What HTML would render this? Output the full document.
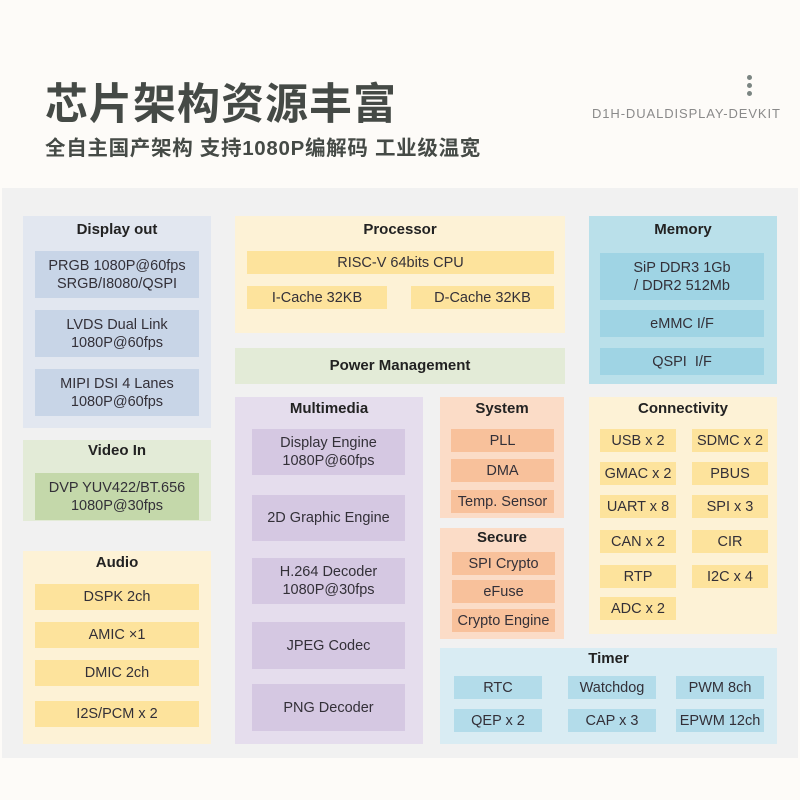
<!DOCTYPE html>
<html><head><meta charset="utf-8"><style>
*{margin:0;padding:0;box-sizing:border-box}
body{width:800px;height:800px;background:#fdfbf8;position:relative;overflow:hidden;font-family:"Liberation Sans","Noto Sans CJK SC",sans-serif;color:#2e2e33}
div{position:absolute}
.b{display:flex;align-items:center;justify-content:center;text-align:center;font-size:14.5px;line-height:18px;color:#333038}
.t{font-weight:bold;font-size:15px;text-align:center;color:#222}
</style></head><body>
<div style="left:45px;top:70px;font-size:43px;font-weight:bold;color:#454a46;letter-spacing:1px;font-family:'Noto Sans CJK SC',sans-serif">芯片架构资源丰富</div>
<div style="left:45px;top:131px;font-size:20.5px;font-weight:bold;color:#454a46;letter-spacing:0.7px;font-family:'Liberation Sans','Noto Sans CJK SC',sans-serif;white-space:nowrap">全自主国产架构 支持1080P编解码 工业级温宽</div>
<div style="left:592px;top:106px;font-size:13px;color:#8a8a8a;letter-spacing:0.9px">D1H-DUALDISPLAY-DEVKIT</div>
<div style="left:747px;top:75px;width:5px;height:5px;border-radius:50%;background:#7b8582"></div>
<div style="left:747px;top:83px;width:5px;height:5px;border-radius:50%;background:#7b8582"></div>
<div style="left:747px;top:91px;width:5px;height:5px;border-radius:50%;background:#7b8582"></div>

<div style="left:2px;top:188px;width:796px;height:570px;background:#f1f1f1"></div>

<!-- Display out -->
<div style="left:23px;top:216px;width:188px;height:212px;background:#e2e7f0"></div>
<div class="t" style="left:23px;top:221px;width:188px">Display out</div>
<div class="b" style="left:35px;top:251px;width:164px;height:47px;background:#c8d5e7">PRGB 1080P@60fps<br>SRGB/I8080/QSPI</div>
<div class="b" style="left:35px;top:310px;width:164px;height:47px;background:#c8d5e7">LVDS Dual Link<br>1080P@60fps</div>
<div class="b" style="left:35px;top:369px;width:164px;height:47px;background:#c8d5e7">MIPI DSI 4 Lanes<br>1080P@60fps</div>

<!-- Video In -->
<div style="left:23px;top:440px;width:188px;height:81px;background:#e3ebd7"></div>
<div class="t" style="left:23px;top:442px;width:188px">Video In</div>
<div class="b" style="left:35px;top:473px;width:164px;height:47px;background:#c4d8aa">DVP YUV422/BT.656<br>1080P@30fps</div>

<!-- Audio -->
<div style="left:23px;top:551px;width:188px;height:193px;background:#fdf2d6"></div>
<div class="t" style="left:23px;top:554px;width:188px">Audio</div>
<div class="b" style="left:35px;top:584px;width:164px;height:26px;background:#fde39c">DSPK 2ch</div>
<div class="b" style="left:35px;top:622px;width:164px;height:26px;background:#fde39c">AMIC ×1</div>
<div class="b" style="left:35px;top:660px;width:164px;height:26px;background:#fde39c">DMIC 2ch</div>
<div class="b" style="left:35px;top:701px;width:164px;height:26px;background:#fde39c">I2S/PCM x 2</div>

<!-- Processor -->
<div style="left:235px;top:216px;width:330px;height:117px;background:#fdf2d6"></div>
<div class="t" style="left:235px;top:221px;width:330px">Processor</div>
<div class="b" style="left:247px;top:251px;width:307px;height:23px;background:#fde39c">RISC-V 64bits CPU</div>
<div class="b" style="left:247px;top:286px;width:140px;height:23px;background:#fde39c">I-Cache 32KB</div>
<div class="b" style="left:411px;top:286px;width:143px;height:23px;background:#fde39c">D-Cache 32KB</div>

<!-- Power -->
<div class="b" style="left:235px;top:348px;width:330px;height:36px;background:#e3ebd7;font-weight:bold;font-size:15px;color:#222">Power Management</div>

<!-- Multimedia -->
<div style="left:235px;top:397px;width:188px;height:347px;background:#e5dded"></div>
<div class="t" style="left:235px;top:400px;width:188px">Multimedia</div>
<div class="b" style="left:252px;top:429px;width:153px;height:46px;background:#d5c8e2">Display Engine<br>1080P@60fps</div>
<div class="b" style="left:252px;top:495px;width:153px;height:46px;background:#d5c8e2">2D Graphic Engine</div>
<div class="b" style="left:252px;top:558px;width:153px;height:46px;background:#d5c8e2">H.264 Decoder<br>1080P@30fps</div>
<div class="b" style="left:252px;top:622px;width:153px;height:47px;background:#d5c8e2">JPEG Codec</div>
<div class="b" style="left:252px;top:684px;width:153px;height:47px;background:#d5c8e2">PNG Decoder</div>

<!-- System -->
<div style="left:440px;top:397px;width:124px;height:121px;background:#fbdcc7"></div>
<div class="t" style="left:440px;top:400px;width:124px">System</div>
<div class="b" style="left:451px;top:429px;width:103px;height:23px;background:#f8c19b">PLL</div>
<div class="b" style="left:451px;top:459px;width:103px;height:23px;background:#f8c19b">DMA</div>
<div class="b" style="left:451px;top:490px;width:103px;height:23px;background:#f8c19b">Temp. Sensor</div>

<!-- Secure -->
<div style="left:440px;top:528px;width:124px;height:111px;background:#fbdcc7"></div>
<div class="t" style="left:440px;top:529px;width:124px">Secure</div>
<div class="b" style="left:452px;top:552px;width:103px;height:23px;background:#f8c19b">SPI Crypto</div>
<div class="b" style="left:452px;top:580px;width:103px;height:23px;background:#f8c19b">eFuse</div>
<div class="b" style="left:452px;top:609px;width:103px;height:23px;background:#f8c19b">Crypto Engine</div>

<!-- Memory -->
<div style="left:589px;top:216px;width:188px;height:168px;background:#bae0ea"></div>
<div class="t" style="left:589px;top:221px;width:188px">Memory</div>
<div class="b" style="left:600px;top:253px;width:164px;height:47px;background:#9fd4e4">SiP DDR3 1Gb<br>/ DDR2 512Mb</div>
<div class="b" style="left:600px;top:310px;width:164px;height:27px;background:#9fd4e4">eMMC I/F</div>
<div class="b" style="left:600px;top:348px;width:164px;height:27px;background:#9fd4e4">QSPI&nbsp; I/F</div>

<!-- Connectivity -->
<div style="left:589px;top:397px;width:188px;height:237px;background:#fdf2d6"></div>
<div class="t" style="left:589px;top:400px;width:188px">Connectivity</div>
<div class="b" style="left:600px;top:429px;width:76px;height:23px;background:#fde39c">USB x 2</div>
<div class="b" style="left:692px;top:429px;width:76px;height:23px;background:#fde39c">SDMC x 2</div>
<div class="b" style="left:600px;top:462px;width:76px;height:23px;background:#fde39c">GMAC x 2</div>
<div class="b" style="left:692px;top:462px;width:76px;height:23px;background:#fde39c">PBUS</div>
<div class="b" style="left:600px;top:495px;width:76px;height:23px;background:#fde39c">UART x 8</div>
<div class="b" style="left:692px;top:495px;width:76px;height:23px;background:#fde39c">SPI x 3</div>
<div class="b" style="left:600px;top:530px;width:76px;height:23px;background:#fde39c">CAN x 2</div>
<div class="b" style="left:692px;top:530px;width:76px;height:23px;background:#fde39c">CIR</div>
<div class="b" style="left:600px;top:565px;width:76px;height:23px;background:#fde39c">RTP</div>
<div class="b" style="left:692px;top:565px;width:76px;height:23px;background:#fde39c">I2C x 4</div>
<div class="b" style="left:600px;top:597px;width:76px;height:23px;background:#fde39c">ADC x 2</div>

<!-- Timer -->
<div style="left:440px;top:648px;width:337px;height:96px;background:#d9ecf3"></div>
<div class="t" style="left:440px;top:650px;width:337px">Timer</div>
<div class="b" style="left:454px;top:676px;width:88px;height:23px;background:#b3dcea">RTC</div>
<div class="b" style="left:568px;top:676px;width:88px;height:23px;background:#b3dcea">Watchdog</div>
<div class="b" style="left:676px;top:676px;width:88px;height:23px;background:#b3dcea">PWM 8ch</div>
<div class="b" style="left:454px;top:709px;width:88px;height:23px;background:#b3dcea">QEP x 2</div>
<div class="b" style="left:568px;top:709px;width:88px;height:23px;background:#b3dcea">CAP x 3</div>
<div class="b" style="left:676px;top:709px;width:88px;height:23px;background:#b3dcea">EPWM 12ch</div>
</body></html>
